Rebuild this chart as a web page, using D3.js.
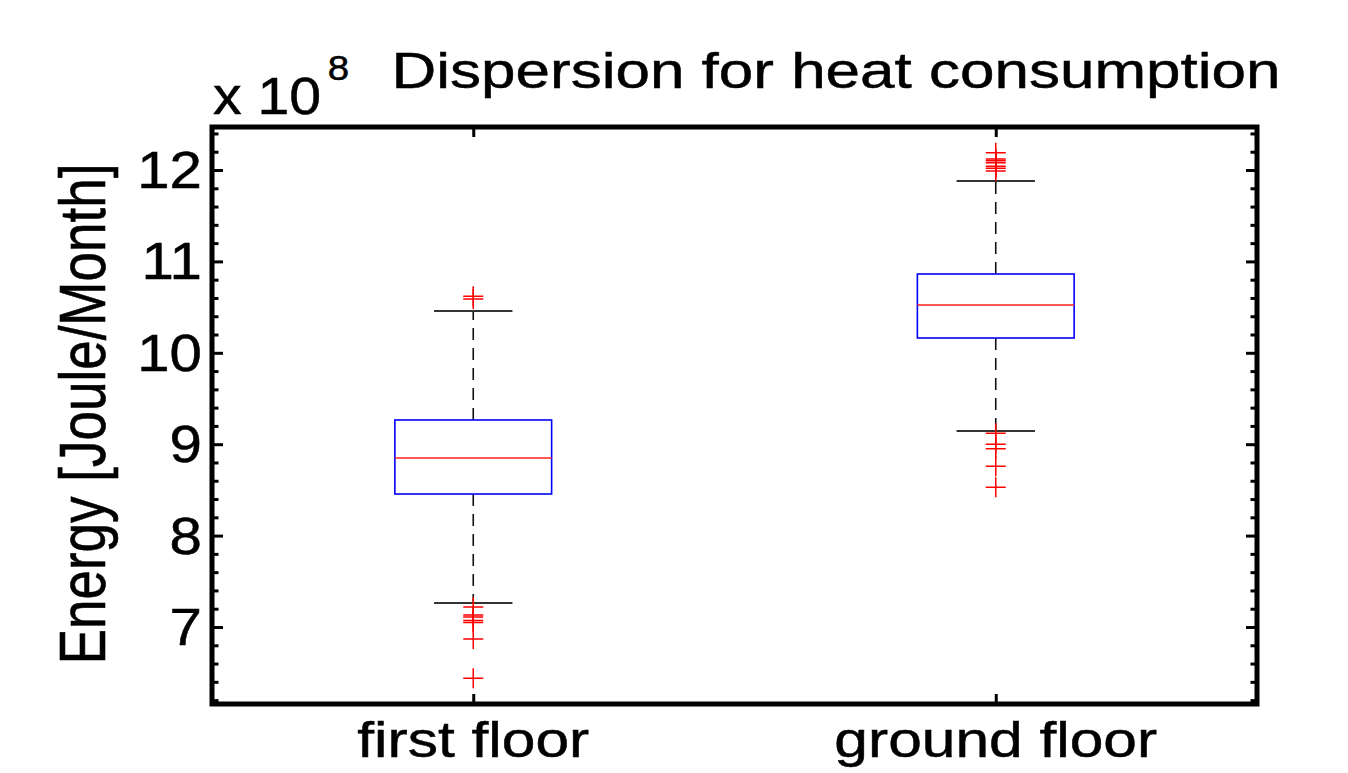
<!DOCTYPE html>
<html>
<head>
<meta charset="utf-8">
<script src="https://cdn.jsdelivr.net/npm/d3@7"></script>
<style>
  html, body { margin: 0; padding: 0; background: #fff; }
  svg { display: block; }
  text { font-family: "Liberation Sans", Arial, Helvetica, sans-serif; fill: #000; stroke: #000; stroke-width: 0.5px; }
</style>
</head>
<body>
<svg id="chart" width="1348" height="773"></svg>
<script>
// Box-plot summaries of monthly heat energy, in units of 1e8 J
const categories = ["first floor", "ground floor"];
const lowerWhisker = [7.263, 9.144];
const q1 = [8.455, 10.162];
const median = [8.849, 10.523];
const q3 = [9.265, 10.862];
const upperWhisker = [10.457, 11.88];
const outliersFirst = [10.62, 10.59, 7.22, 7.13, 7.11, 7.07, 7.05, 6.87, 6.44];
const outliersGround = [12.19, 12.12, 12.10, 12.08, 12.04, 12.02, 11.99, 9.12, 9.00, 8.95, 8.76, 8.53];
const yMajorTicks = [7, 8, 9, 10, 11, 12];
const yTickLabels = ["7", "8", "9", "10", "11", "12"];

const outliers = [outliersFirst, outliersGround];

const svg = d3.select("#chart");
const plotLeft = 212, plotRight = 1257, plotTop = 127, plotBottom = 704;

const x = d3.scaleLinear().domain([0.5, 2.5]).range([plotLeft, plotRight]);
const y = d3.scaleLinear().domain([6.1575, 12.4705]).range([plotBottom, plotTop]);

const boxHalf = 0.15, capHalf = 0.075, crossHalf = 10;

// minor ticks every 0.2
const yMinorTicks = d3.range(31, 63).map(k => k / 5).filter(v => Math.abs(v - Math.round(v)) > 1e-6 && v > 6.16 && v < 12.47);

// inward ticks on all four sides
function tickStyle(g) {
  g.select(".domain").remove();
  g.selectAll(".tick line").attr("stroke", "#000").attr("stroke-width", 3);
  g.selectAll(".tick text").remove();
}
svg.append("g").attr("transform", `translate(${plotLeft},0)`)
  .call(d3.axisLeft(y).tickValues(yMajorTicks).tickSize(-11).tickFormat(""))
  .call(tickStyle);
svg.append("g").attr("transform", `translate(${plotLeft},0)`)
  .call(d3.axisLeft(y).tickValues(yMinorTicks).tickSize(-6.5).tickFormat(""))
  .call(tickStyle);
svg.append("g").attr("transform", `translate(${plotRight},0)`)
  .call(d3.axisRight(y).tickValues(yMajorTicks).tickSize(-11).tickFormat(""))
  .call(tickStyle);
svg.append("g").attr("transform", `translate(${plotRight},0)`)
  .call(d3.axisRight(y).tickValues(yMinorTicks).tickSize(-6.5).tickFormat(""))
  .call(tickStyle);
svg.append("g").attr("transform", `translate(0,${plotBottom})`)
  .call(d3.axisBottom(x).tickValues([1, 2]).tickSize(-10).tickFormat(""))
  .call(tickStyle);
svg.append("g").attr("transform", `translate(0,${plotTop})`)
  .call(d3.axisTop(x).tickValues([1, 2]).tickSize(-10).tickFormat(""))
  .call(tickStyle);

// frame
svg.append("rect")
  .attr("x", plotLeft).attr("y", plotTop)
  .attr("width", plotRight - plotLeft).attr("height", plotBottom - plotTop)
  .attr("fill", "none").attr("stroke", "#000").attr("stroke-width", 5);

// y tick labels
svg.append("g").selectAll("text")
  .data(yMajorTicks)
  .join("text")
  .attr("transform", d => `translate(202,${y(d) + 18}) scale(1.12,1)`)
  .attr("text-anchor", "end")
  .attr("font-size", 52)
  .text((d, i) => yTickLabels[i]);

// x category labels
svg.append("g").selectAll("text")
  .data(categories)
  .join("text")
  .attr("transform", (d, i) => `translate(${x(i + 1)},757) scale(1.21,1)`)
  .attr("text-anchor", "middle")
  .attr("font-size", 50)
  .text(d => d);

// boxes
const boxes = svg.append("g").selectAll("g")
  .data(categories)
  .join("g");

// dashed whiskers
boxes.append("line")
  .attr("x1", (d, i) => x(i + 1)).attr("x2", (d, i) => x(i + 1))
  .attr("y1", (d, i) => y(q3[i])).attr("y2", (d, i) => y(upperWhisker[i]))
  .attr("stroke", "#111").attr("stroke-width", 1.6).attr("stroke-dasharray", "12,8");
boxes.append("line")
  .attr("x1", (d, i) => x(i + 1)).attr("x2", (d, i) => x(i + 1))
  .attr("y1", (d, i) => y(q1[i])).attr("y2", (d, i) => y(lowerWhisker[i]))
  .attr("stroke", "#111").attr("stroke-width", 1.6).attr("stroke-dasharray", "12,8");

// whisker caps
[upperWhisker, lowerWhisker].forEach(w => {
  boxes.append("line")
    .attr("x1", (d, i) => x(i + 1 - capHalf)).attr("x2", (d, i) => x(i + 1 + capHalf))
    .attr("y1", (d, i) => y(w[i])).attr("y2", (d, i) => y(w[i]))
    .attr("stroke", "#333").attr("stroke-width", 2);
});

// interquartile box
boxes.append("rect")
  .attr("x", (d, i) => x(i + 1 - boxHalf))
  .attr("width", (d, i) => x(i + 1 + boxHalf) - x(i + 1 - boxHalf))
  .attr("y", (d, i) => y(q3[i]))
  .attr("height", (d, i) => y(q1[i]) - y(q3[i]))
  .attr("fill", "none").attr("stroke", "#0000ff").attr("stroke-width", 1.6);

// median
boxes.append("line")
  .attr("x1", (d, i) => x(i + 1 - boxHalf)).attr("x2", (d, i) => x(i + 1 + boxHalf))
  .attr("y1", (d, i) => y(median[i])).attr("y2", (d, i) => y(median[i]))
  .attr("stroke", "#ff2020").attr("stroke-width", 1.4);

// outliers as red plus markers
boxes.each(function (d, i) {
  const cx = x(i + 1);
  const g = d3.select(this).append("g");
  g.selectAll("path")
    .data(outliers[i])
    .join("path")
    .attr("d", v => `M${cx - crossHalf},${y(v)}H${cx + crossHalf}M${cx},${y(v) - crossHalf}V${y(v) + crossHalf}`)
    .attr("stroke", "#ff0000").attr("stroke-width", 1.5).attr("fill", "none");
});

// title
svg.append("text")
  .attr("transform", "translate(836,88) scale(1.24,1)")
  .attr("text-anchor", "middle")
  .attr("font-size", 50)
  .text("Dispersion for heat consumption");

// exponent multiplier
const mult = svg.append("text")
  .attr("transform", "translate(213,114) scale(1.1,1)")
  .attr("font-size", 52);
mult.append("tspan").text("x 10");
mult.append("tspan").attr("font-size", 35).attr("dy", -34).attr("dx", 6).text("8");

// y axis title
svg.append("text")
  .attr("transform", "translate(105,414) scale(1.24,1) rotate(-90)")
  .attr("text-anchor", "middle")
  .attr("font-size", 53)
  .text("Energy [Joule/Month]");
</script>
</body>
</html>
